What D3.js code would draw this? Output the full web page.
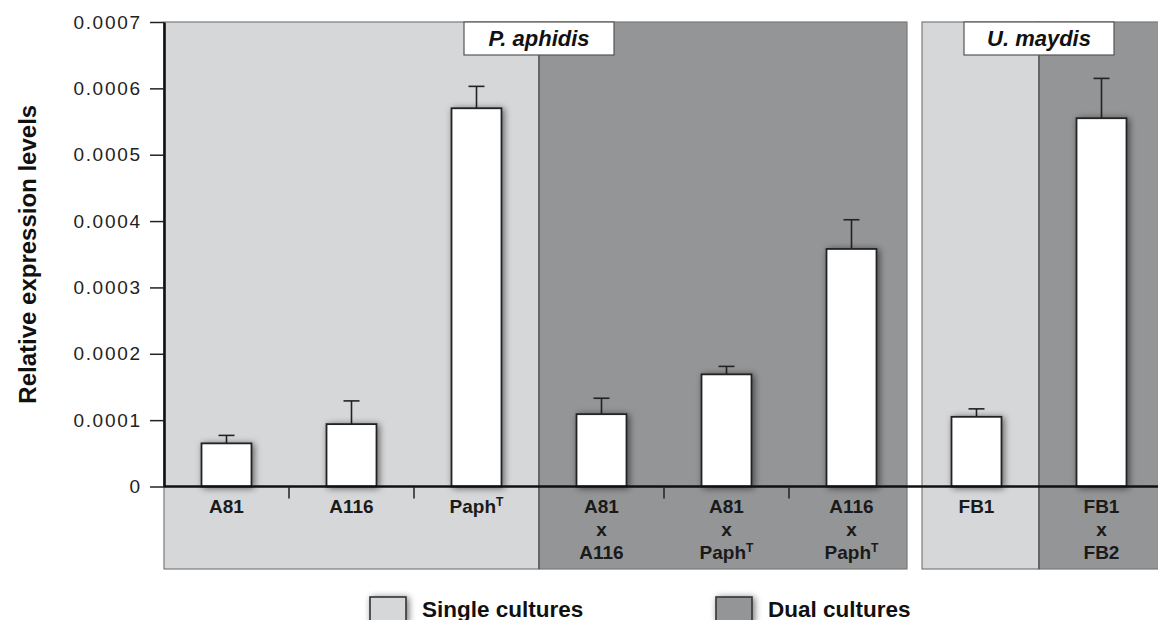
<!DOCTYPE html>
<html><head><meta charset="utf-8">
<script src="https://cdn.jsdelivr.net/npm/d3@7"></script>
<style>
html,body{margin:0;padding:0;background:#fff;}
svg{display:block;font-family:"Liberation Sans",Arial,Helvetica,sans-serif;}
</style></head>
<body>
<svg id="chart" width="1158" height="620"></svg>
<script>
// ---- data ----
const categories = ["A81","A116","PaphT","A81xA116","A81xPaphT","A116xPaphT","FB1","FB1xFB2"];
const categoryLabels = [["A81"],["A116"],["Paph^T"],["A81","x","A116"],["A81","x","Paph^T"],["A116","x","Paph^T"],["FB1"],["FB1","x","FB2"]];
const meanValues = [0.000065,0.000094,0.00057,0.000109,0.000169,0.000358,0.000105,0.000555];
const errorValues = [0.000012,0.000035,0.000033,0.000024,0.000012,0.000044,0.000012,0.00006];
const yTicks = [0,0.0001,0.0002,0.0003,0.0004,0.0005,0.0006,0.0007];
const cultureType = ["single","single","single","dual","dual","dual","single","dual"];
const organisms = ["P. aphidis","U. maydis"];
const organismGroups = [["A81","A116","PaphT","A81xA116","A81xPaphT","A116xPaphT"],["FB1","FB1xFB2"]];
const subPanels = [["A81","PaphT","single"],["A81xA116","A116xPaphT","dual"],["FB1","FB1","single"],["FB1xFB2","FB1xFB2","dual"]];
const legendItems = [["single","Single cultures"],["dual","Dual cultures"]];
const yTitle = "Relative expression levels";

// ---- layout ----
const svg = d3.select("#chart");
const left = 164, yTop = 22, yBottom = 486.5, panelBottom = 569;
const fillColor = {single:"#d6d7d9", dual:"#949597"};

const x = d3.scaleBand().domain(categories).range([left, left + 1000]).paddingInner(0.6).paddingOuter(0.3);
const y = d3.scaleLinear().domain([0, 0.0007]).range([yBottom, yTop]);
const step = x.step(), bw = x.bandwidth(), half = (step - bw) / 2;
const bandStart = c => x(c) - half;
const bandEnd = c => x(c) + bw + half;

const defs = svg.append("defs");
const f = defs.append("filter").attr("id","shadow").attr("x","-30%").attr("y","-30%").attr("width","160%").attr("height","160%");
f.append("feGaussianBlur").attr("in","SourceAlpha").attr("stdDeviation",3.5).attr("result","b");
f.append("feOffset").attr("in","b").attr("dx",2).attr("dy",1).attr("result","o");
f.append("feComponentTransfer").attr("in","o").attr("result","s").append("feFuncA").attr("type","linear").attr("slope",0.55);
const fm = f.append("feMerge");
fm.append("feMergeNode").attr("in","s");
fm.append("feMergeNode").attr("in","SourceGraphic");

// sub panels (background)
const gapL = 7, gapR = 8;
subPanels.forEach(([a,b,type]) => {
  let x0 = bandStart(a), x1 = bandEnd(b);
  if (a === "A81xA116") x1 -= gapL;
  if (a === "FB1") x0 += gapR;
  svg.append("rect").attr("x",x0).attr("y",yTop).attr("width",x1-x0).attr("height",panelBottom-yTop)
    .attr("fill",fillColor[type]).attr("stroke","#7a7a7a").attr("stroke-width",1.2);
});
// divider lines between single and dual
["A81xA116","FB1xFB2"].forEach(c => {
  svg.append("line").attr("x1",bandStart(c)).attr("x2",bandStart(c)).attr("y1",yTop).attr("y2",panelBottom)
    .attr("stroke","#555").attr("stroke-width",1.3);
});

// bars
const data = categories.map((c,i) => ({c, v:meanValues[i], e:errorValues[i]}));
const gBars = svg.append("g");
gBars.selectAll("line.err").data(data).enter().append("line")
  .attr("x1",d=>x(d.c)+bw/2).attr("x2",d=>x(d.c)+bw/2)
  .attr("y1",d=>y(d.v)).attr("y2",d=>y(d.v+d.e)).attr("stroke","#222").attr("stroke-width",1.6);
gBars.selectAll("line.cap").data(data).enter().append("line")
  .attr("x1",d=>x(d.c)+bw/2-8).attr("x2",d=>x(d.c)+bw/2+8)
  .attr("y1",d=>y(d.v+d.e)).attr("y2",d=>y(d.v+d.e)).attr("stroke","#222").attr("stroke-width",1.6);
gBars.selectAll("rect").data(data).enter().append("rect")
  .attr("x",d=>x(d.c)).attr("width",bw).attr("y",d=>y(d.v)).attr("height",d=>yBottom-y(d.v))
  .attr("fill","#fff").attr("stroke","#222").attr("stroke-width",1.8).attr("filter","url(#shadow)");

// organism label boxes
organismGroups.forEach((grp,i) => {
  const mid = grp.length === 2 ? bandStart(grp[1]) : bandStart(grp[3]);
  svg.append("rect").attr("x",mid-75).attr("y",yTop).attr("width",150).attr("height",33)
    .attr("fill","#fff").attr("stroke","#555").attr("stroke-width",1.2);
  svg.append("text").attr("x",mid).attr("y",yTop+24).attr("text-anchor","middle")
    .attr("font-size",22).attr("font-weight","bold").attr("font-style","italic").attr("fill","#111")
    .text(organisms[i]);
});

// x axis line
svg.append("line").attr("x1",left).attr("x2",1158).attr("y1",yBottom).attr("y2",yBottom)
  .attr("stroke","#111").attr("stroke-width",2.6);

// category ticks inside sub-panels
subPanels.forEach(([a,b]) => {
  const i0 = categories.indexOf(a), i1 = categories.indexOf(b);
  for (let i = i0; i < i1; i++) {
    const xx = bandEnd(categories[i]);
    svg.append("line").attr("x1",xx).attr("x2",xx).attr("y1",yBottom).attr("y2",yBottom+12)
      .attr("stroke","#222").attr("stroke-width",1.5);
  }
});

// category labels
categories.forEach((c,i) => {
  categoryLabels[i].forEach((line,j) => {
    const yy = 512.5 + j*23.3;
    const tt = svg.append("text").attr("x",x(c)+bw/2).attr("y",yy).attr("text-anchor","middle")
      .attr("font-size",19).attr("font-weight","bold").attr("fill","#1a1a1a");
    if (line.includes("^")) {
      const [base,sup] = line.split("^");
      tt.append("tspan").text(base);
      tt.append("tspan").attr("font-size",12).attr("dy",-7).text(sup);
    } else {
      tt.text(line);
    }
  });
});

// y axis
const yAxis = d3.axisLeft(y).tickValues(yTicks).tickSizeInner(14).tickSizeOuter(0).tickPadding(10)
  .tickFormat(d => d === 0 ? "0" : d3.format(".4f")(d));
const gy = svg.append("g").attr("transform",`translate(${left},0)`).call(yAxis);
gy.select(".domain").attr("stroke","#111").attr("stroke-width",2.6);
gy.selectAll(".tick line").attr("stroke","#222").attr("stroke-width",1.5);
gy.selectAll(".tick text").attr("font-size",19).attr("fill","#222").attr("letter-spacing","1.7px")
  .attr("font-family","\"Liberation Sans\",Arial,sans-serif").attr("dx","1.7px");

// y title
svg.append("text").attr("transform",`translate(27,${(yTop+yBottom)/2}) rotate(-90)`)
  .attr("text-anchor","middle").attr("dominant-baseline","central")
  .attr("font-size",24).attr("font-weight","bold").attr("fill","#111").text(yTitle);

// legend
const legX = [370, 716];
legendItems.forEach(([type,label],i) => {
  svg.append("rect").attr("x",legX[i]).attr("y",597).attr("width",36).attr("height",26)
    .attr("fill",fillColor[type]).attr("stroke","#333").attr("stroke-width",1.6).attr("filter","url(#shadow)");
  svg.append("text").attr("x",legX[i]+52).attr("y",616.5).attr("font-size",22.5).attr("font-weight","bold")
    .attr("fill","#111").text(label);
});
</script>
</body></html>
